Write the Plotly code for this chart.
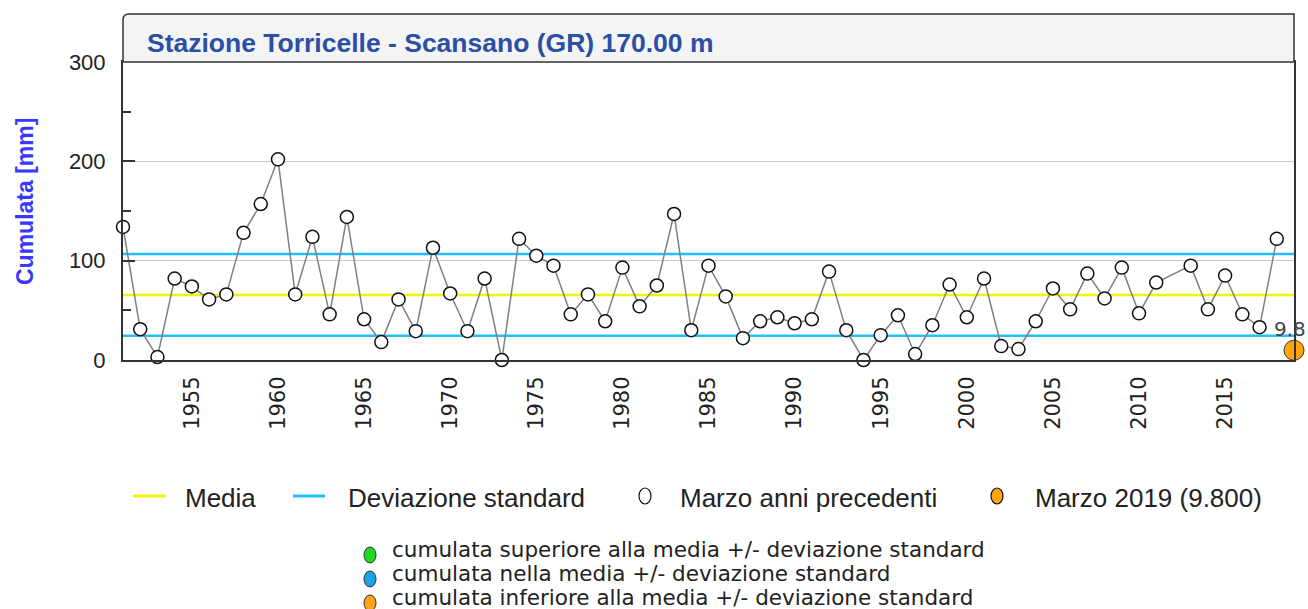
import plotly.graph_objects as go

# dati (cumulata di marzo, mm)
anni = list(range(1951, 2012)) + list(range(2013, 2019))
cumulata = [134, 31, 3, 82, 74, 61, 66, 128, 157, 202,
            66, 124, 46, 144, 41, 18, 61, 29, 113, 67,
            29, 82, 0, 122, 105, 95, 46, 66, 39, 93,
            54, 75, 147, 30, 95, 64, 22, 39, 43, 37,
            41, 89, 30, 0, 25, 45, 6, 35, 76, 43,
            82, 14, 11, 39, 72, 51, 87, 62, 93, 47,
            78, 95, 51, 85, 46, 33, 122]
anno_corrente = [2019]
cumulata_corrente = [9.8]
media = 65.5
dev_std = 41.2
anni_tick = list(range(1955, 2020, 5))

W, H = 1308, 609
L, T = 123, 62
PW, PH = 1171, 298
R, B = W - L - PW, H - T - PH
FONT = "Liberation Sans, Arial, sans-serif"


def px(p):
    return (p - L) / PW


def py(p):
    return (H - B - p) / PH


x_lim = [anni[0], anno_corrente[0]]

fig = go.Figure()
fig.add_trace(go.Scatter(x=x_lim, y=[media, media], mode="lines",
                         line=dict(color="#f2f20a", width=2.5), hoverinfo="skip"))
for s in (-1, 1):
    fig.add_trace(go.Scatter(x=x_lim, y=[media + s * dev_std] * 2, mode="lines",
                             line=dict(color="#1ec0f5", width=2.5), hoverinfo="skip"))
fig.add_trace(go.Scatter(x=anni, y=cumulata, mode="lines+markers",
                         line=dict(color="#808080", width=1.5),
                         marker=dict(symbol="circle", size=13, color="white",
                                     line=dict(color="#111", width=1.5)),
                         cliponaxis=False))
fig.add_trace(go.Scatter(x=anno_corrente, y=cumulata_corrente, mode="markers",
                         marker=dict(symbol="circle", size=20, color="#ffa50a",
                                     line=dict(color="#333", width=1)),
                         cliponaxis=False))

fig.add_annotation(x=anno_corrente[0], y=cumulata_corrente[0], text="9.8",
                   showarrow=False, xshift=-4, yshift=21, xanchor="center", yanchor="middle",
                   font=dict(family="DejaVu Sans", size=20, color="#444"))

# riquadro del titolo
rx, ry = 6 / PW, 6 / PH
y_top = py(14)
fig.add_shape(type="path", xref="paper", yref="paper",
              path=f"M 0,1 L 0,{y_top - ry} Q 0,{y_top} {rx},{y_top} L 1,{y_top} L 1,1 Z",
              fillcolor="#f4f4f4", line=dict(color="#333", width=1.5))
fig.add_annotation(xref="paper", yref="paper", x=px(145), y=py(43), xanchor="left",
                   yanchor="middle", showarrow=False,
                   text="<b>Stazione Torricelle - Scansano (GR) 170.00 m</b>",
                   font=dict(family=FONT, size=26.5, color="#2a4fa4"))
fig.add_annotation(xref="paper", yref="paper", x=px(25), y=py(202), textangle=-90,
                   xanchor="center", yanchor="middle", showarrow=False,
                   text="<b>Cumulata [mm]</b>",
                   font=dict(family=FONT, size=23, color="#3838ff"))

# legenda
yl = py(496)
fig.add_shape(type="line", xref="paper", yref="paper", x0=px(133), x1=px(165), y0=yl, y1=yl,
              line=dict(color="#f2f20a", width=3))
fig.add_shape(type="line", xref="paper", yref="paper", x0=px(293), x1=px(325), y0=yl, y1=yl,
              line=dict(color="#1ec0f5", width=3))
for cx, col in ((645, "white"), (997, "#ffa50a")):
    fig.add_shape(type="circle", xref="paper", yref="paper", x0=px(cx - 6), x1=px(cx + 6),
                  y0=py(496 + 8), y1=py(496 - 8), fillcolor=col, line=dict(color="#111", width=1.2))
for x0, txt in ((183, "Media"), (346, "Deviazione standard"),
                (678, "Marzo anni precedenti"), (1033, "Marzo 2019 (9.800)")):
    fig.add_annotation(xref="paper", yref="paper", x=px(x0), y=py(498), xanchor="left",
                       yanchor="middle", text=txt, showarrow=False,
                       font=dict(family=FONT, size=26, color="#222"))

voci = ["cumulata superiore alla media +/- deviazione standard",
        "cumulata nella media +/- deviazione standard",
        "cumulata inferiore alla media +/- deviazione standard"]
colori = ["#1fd81f", "#1aa3e6", "#ffa21a"]
for i, (txt, col) in enumerate(zip(voci, colori)):
    yc = 555 + 24 * i
    fig.add_shape(type="circle", xref="paper", yref="paper", x0=px(364), x1=px(376),
                  y0=py(yc + 8), y1=py(yc - 8), fillcolor=col, line=dict(color="#333", width=1))
    fig.add_annotation(xref="paper", yref="paper", x=px(390), y=py(yc - 6), xanchor="left",
                       yanchor="middle", text=txt, showarrow=False,
                       font=dict(family="DejaVu Sans", size=21.5, color="#222"))

fig.update_layout(
    width=W, height=H, margin=dict(l=L, r=R, t=T, b=B),
    paper_bgcolor="white", plot_bgcolor="white", showlegend=False,
    xaxis=dict(range=x_lim, tickvals=anni_tick, tickangle=-90, showgrid=False,
               zeroline=False, showline=True, linecolor="#333", linewidth=2, mirror=True,
               ticks="", ticklabelstandoff=6,
               tickfont=dict(family="DejaVu Sans", size=21, color="#222")),
    yaxis=dict(range=[0, 300], tickvals=[0, 100, 200, 300], showgrid=True,
               gridcolor="#c8c8c8", gridwidth=1.2, zeroline=False, showline=True,
               linecolor="#333", linewidth=2, mirror=True, ticks="inside", ticklen=12,
               tickcolor="#333", tickwidth=1.5, ticklabelstandoff=11,
               minor=dict(ticks="inside", ticklen=8, tickcolor="#333", tickwidth=1.5,
                          tickvals=[50, 150, 250]),
               tickfont=dict(family=FONT, size=22, color="#222")),
)

# niente margine della pagina attorno alla figura, niente barra degli strumenti
fig.write_html("out.html", config={"displayModeBar": False},
               post_script="document.body.style.margin='0';")
